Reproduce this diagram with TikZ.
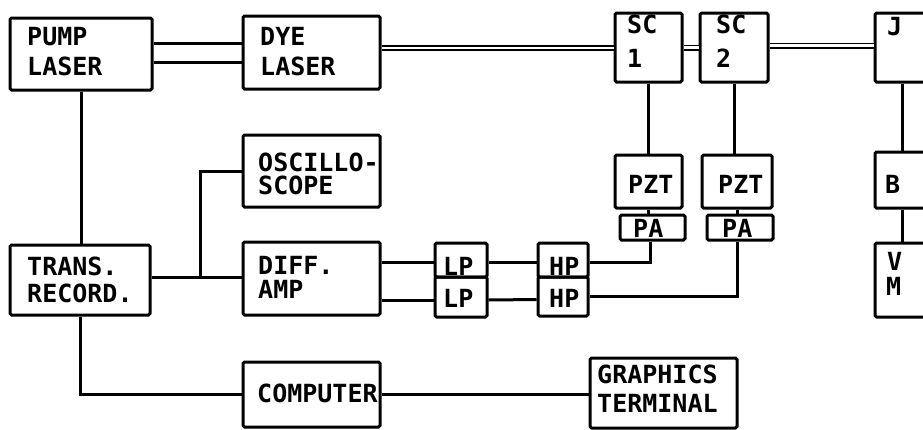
\documentclass[tikz,border=0pt]{standalone}
\usepackage{fontspec}
\newfontfamily\dmono{DejaVu Sans Mono}
\begin{document}
\begin{tikzpicture}[x=1pt,y=-1pt,
  box/.style={draw,line width=3pt,rounded corners=1.5pt,inner sep=0pt,minimum width=#1},
  lbl/.style={anchor=base west,inner sep=0pt,font=\dmono\bfseries\fontsize{25}{30}\selectfont},
  wire/.style={line width=3pt},
  dl/.style={double,double distance=2.2pt,line width=1.9pt},
  every path/.style={line cap=butt}]
\useasboundingbox (0,0) rectangle (923,429);
% boxes (center, width, height)
\node[box=142pt,minimum height=72pt] (pump) at (81,54) {};
\node[box=137pt,minimum height=73pt] (dye) at (311.5,52.5) {};
\node[box=67pt,minimum height=69pt] (sc1) at (648.5,47.5) {};
\node[box=68pt,minimum height=69pt] (sc2) at (734,47.5) {};
\node[box=60pt,minimum height=69pt] (j) at (905,47.5) {};
\node[box=137pt,minimum height=72pt] (osc) at (311.5,171) {};
\node[box=137pt,minimum height=73pt] (diff) at (311.5,278.5) {};
\node[box=140pt,minimum height=70pt] (trans) at (80,280) {};
\node[box=52pt,minimum height=34pt] (lp1) at (461,260) {};
\node[box=52pt,minimum height=40pt] (lp2) at (461,297) {};
\node[box=50pt,minimum height=34pt] (hp1) at (563,260) {};
\node[box=50pt,minimum height=39pt] (hp2) at (563,296.5) {};
\node[box=67pt,minimum height=53pt] (pzt1) at (648.5,181.5) {};
\node[box=65pt,minimum height=25pt] (pa1) at (652.5,227.5) {};
\node[box=70pt,minimum height=53pt] (pzt2) at (737,181.5) {};
\node[box=66pt,minimum height=25pt] (pa2) at (740,227.5) {};
\node[box=60pt,minimum height=56pt] (b) at (905,180) {};
\node[box=60pt,minimum height=74pt] (vm) at (905,280) {};
\node[box=137pt,minimum height=65pt] (computer) at (311.5,394.5) {};
\node[box=147pt,minimum height=70pt] (graphics) at (663.5,393) {};
% labels
\node[lbl] (tpump1) at (27,45) {PUMP};
\node[lbl] (tpump2) at (27,75) {LASER};
\node[lbl] (tdye1) at (260,45) {DYE};
\node[lbl] (tdye2) at (260,75) {LASER};
\node[lbl] (tsc11) at (627,33) {SC};
\node[lbl] (tsc12) at (627,67) {1};
\node[lbl] (tsc21) at (716,33) {SC};
\node[lbl] (tsc22) at (716,67) {2};
\node[lbl] (tj) at (887,35) {J};
\node[lbl] (tosc1) at (258,171) {OSCILLO-};
\node[lbl] (tosc2) at (258,194) {SCOPE};
\node[lbl] (tdiff1) at (258,274) {DIFF.};
\node[lbl] (tdiff2) at (258,298) {AMP};
\node[lbl] (ttrans1) at (27,275) {TRANS.};
\node[lbl] (ttrans2) at (27,302) {RECORD.};
\node[lbl] (tlp1) at (443,275) {LP};
\node[lbl] (tlp2) at (443,307) {LP};
\node[lbl] (thp1) at (549,275) {HP};
\node[lbl] (thp2) at (549,307) {HP};
\node[lbl] (tpzt1) at (628,193) {PZT};
\node[lbl] (tpzt2) at (718,193) {PZT};
\node[lbl] (tpa1) at (633,237) {PA};
\node[lbl] (tpa2) at (722,237) {PA};
\node[lbl] (tb) at (885,193) {B};
\node[lbl] (tv) at (887,270) {V};
\node[lbl] (tm) at (886,295) {M};
\node[lbl] (tcomp) at (257,402) {COMPUTER};
\node[lbl] (tgr1) at (597,383) {GRAPHICS};
\node[lbl] (tgr2) at (597,412) {TERMINAL};
% optical connections
\draw[wire] ([yshift=11pt]pump.east) coordinate (p1) -- (p1 -| dye.west);
\draw[wire] ([yshift=-8pt]pump.east) coordinate (p2) -- (p2 -| dye.west);
\draw[dl] ([yshift=4.5pt]dye.east) coordinate (d1) -- (d1 -| sc1.west);
\draw[dl] (sc1.east) -- (sc2.west);
\draw[dl] ([yshift=2pt]sc2.east) coordinate (s2) -- (s2 -| j.west);
% electrical connections
\draw[wire] (sc1.south) -- (pzt1.north);
\draw[wire] (pzt1.south) -- (pzt1.south |- pa1.north);
\draw[wire] (sc2.south) -- (sc2.south |- pzt2.north);
\draw[wire] (pzt2.south) -- (pzt2.south |- pa2.north);
\draw[wire] (j.south -| 902,0) -- (b.north -| 902,0);
\draw[wire] (b.south -| 902,0) -- (vm.north -| 902,0);
\draw[wire] (pa1.south -| 650,0) |- ([yshift=-2pt]hp1.east);
\draw[wire] (pa2.south -| 737,0) |- (hp2.east);
\draw[wire] (pump.south) -- (pump.south |- trans.north);
\draw[wire] ([yshift=3pt]trans.east) coordinate (t1) -- (t1 -| diff.west);
\coordinate (jn) at (t1 -| 200,0);
\draw[wire] (jn) |- (osc.west);
\draw[wire] (trans.south) |- (computer.west);
\draw[wire] (computer.east) -- (computer.east -| graphics.west);
\draw[wire] ([yshift=-2pt]lp1.west -| diff.east) -- ([yshift=-2pt]lp1.west);
\draw[wire] ([yshift=-3pt]lp2.west -| diff.east) -- ([yshift=-3pt]lp2.west);
\draw[wire] ([yshift=-2pt]lp1.east) -- ([yshift=-2pt]hp1.west);
\draw[wire] ([yshift=-3pt]lp2.east) -- ([yshift=-3pt]hp2.west);
\end{tikzpicture}
\end{document}
